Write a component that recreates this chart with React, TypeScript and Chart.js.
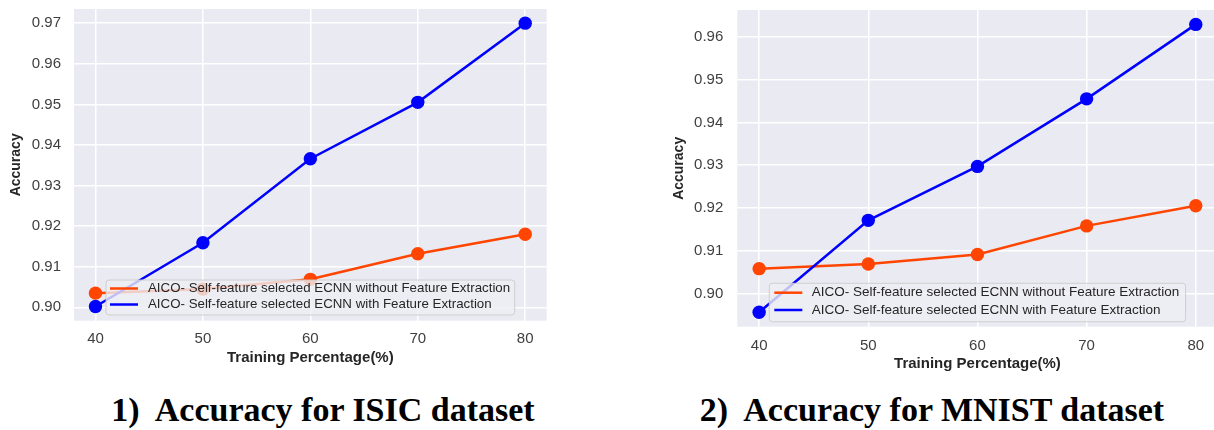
import React, { useEffect, useRef } from "react";
import { Chart, registerables } from "chart.js";

Chart.register(...registerables);

// ---------------- data ----------------
const trainingPercentage = [40, 50, 60, 70, 80];
const xTickValues = [40, 50, 60, 70, 80];

const isicWithoutFE = [0.9035, 0.9045, 0.9069, 0.9132, 0.918];
const isicWithFE = [0.9002, 0.9159, 0.9366, 0.9505, 0.97];

const mnistWithoutFE = [0.9058, 0.9069, 0.9091, 0.9158, 0.9205];
const mnistWithFE = [0.8956, 0.9171, 0.9297, 0.9455, 0.9629];

const isicYTicks = [0.9, 0.91, 0.92, 0.93, 0.94, 0.95, 0.96, 0.97];
const mnistYTicks = [0.9, 0.91, 0.92, 0.93, 0.94, 0.95, 0.96];

const seriesLabels = [
  "AICO- Self-feature selected ECNN without Feature Extraction",
  "AICO- Self-feature selected ECNN with Feature Extraction",
];
const xAxisTitle = "Training Percentage(%)";
const yAxisTitle = "Accuracy";
const captions = ["1)  Accuracy for ISIC dataset", "2)  Accuracy for MNIST dataset"];

// ---------------- styling ----------------
const RED = "#ff4500";
const BLUE = "#0000ff";
const PLOT_BG = "#eaeaf2";
const TEXT = "#262626";
const TICK_TEXT = "#3f3f3f";
const SANS = "'Liberation Sans', Arial, sans-serif";

type Layout = {
  width: number;
  height: number;
  yAxisWidth: number;
  xAxisHeight: number;
  padTop: number;
  padRight: number;
  yTitlePad: number;
  xTitlePad: number;
  yTickPad: number;
  xTickPad: number;
  legend: {
    inset: number;
    bottom: number;
    height: number;
    rows: number[];
    sampleStart: number;
    sampleEnd: number;
    textX: number;
    fontSize: number;
  };
};

const paddedRange = (vals: number[]) => {
  const mn = Math.min(...vals);
  const mx = Math.max(...vals);
  const m = (mx - mn) * 0.05;
  return [mn - m, mx + m];
};

const backgroundPlugin = {
  id: "plotBackground",
  beforeDraw(chart: any) {
    const { ctx, chartArea: a } = chart;
    ctx.save();
    ctx.fillStyle = PLOT_BG;
    ctx.fillRect(a.left, a.top, a.right - a.left, a.bottom - a.top);
    ctx.restore();
  },
};

const makeLegendPlugin = (L: Layout) => ({
  id: "insideLegend",
  afterDatasetsDraw(chart: any) {
    const { ctx, chartArea: a } = chart;
    const lg = L.legend;
    const left = a.left + lg.inset;
    const right = a.right - lg.inset;
    const bottom = a.bottom - lg.bottom;
    const top = bottom - lg.height;
    ctx.save();
    ctx.beginPath();
    const r = 3;
    ctx.moveTo(left + r, top);
    ctx.lineTo(right - r, top);
    ctx.quadraticCurveTo(right, top, right, top + r);
    ctx.lineTo(right, bottom - r);
    ctx.quadraticCurveTo(right, bottom, right - r, bottom);
    ctx.lineTo(left + r, bottom);
    ctx.quadraticCurveTo(left, bottom, left, bottom - r);
    ctx.lineTo(left, top + r);
    ctx.quadraticCurveTo(left, top, left + r, top);
    ctx.closePath();
    ctx.fillStyle = "rgba(238,238,244,0.8)";
    ctx.fill();
    ctx.strokeStyle = "rgba(204,204,204,0.9)";
    ctx.lineWidth = 1;
    ctx.stroke();
    chart.data.datasets.forEach((ds: any, i: number) => {
      const y = top + lg.rows[i];
      ctx.strokeStyle = ds.borderColor;
      ctx.lineWidth = 2.5;
      ctx.beginPath();
      ctx.moveTo(left + lg.sampleStart, y);
      ctx.lineTo(left + lg.sampleEnd, y);
      ctx.stroke();
      ctx.fillStyle = TEXT;
      ctx.font = `${lg.fontSize}px ${SANS}`;
      ctx.textBaseline = "middle";
      ctx.textAlign = "left";
      ctx.fillText(ds.label, left + lg.textX, y);
    });
    ctx.restore();
  },
});

const makeConfig = (without: number[], withFE: number[], yTicks: number[], L: Layout): any => {
  const [yMin, yMax] = paddedRange([...without, ...withFE]);
  const [xMin, xMax] = paddedRange(trainingPercentage);
  const toPts = (arr: number[]) => trainingPercentage.map((x, i) => ({ x, y: arr[i] }));
  return {
    type: "line",
    data: {
      datasets: [
        {
          label: seriesLabels[0],
          data: toPts(without),
          borderColor: RED,
          backgroundColor: RED,
          pointBackgroundColor: RED,
          borderWidth: 2.5,
          pointRadius: 6.7,
          pointBorderWidth: 0,
          order: 1,
        },
        {
          label: seriesLabels[1],
          data: toPts(withFE),
          borderColor: BLUE,
          backgroundColor: BLUE,
          pointBackgroundColor: BLUE,
          borderWidth: 2.5,
          pointRadius: 6.7,
          pointBorderWidth: 0,
          order: 0,
        },
      ],
    },
    options: {
      responsive: false,
      animation: false,
      devicePixelRatio: 1,
      layout: { padding: { top: L.padTop, right: L.padRight, left: 0, bottom: 0 } },
      plugins: { legend: { display: false }, tooltip: { enabled: false } },
      scales: {
        x: {
          type: "linear",
          min: xMin,
          max: xMax,
          afterBuildTicks: (s: any) => {
            s.ticks = xTickValues.map((v) => ({ value: v }));
          },
          afterFit: (s: any) => {
            s.height = L.xAxisHeight;
            s.paddingLeft = 0;
            s.paddingRight = 0;
            s.paddingTop = 0;
            s.paddingBottom = 0;
          },
          grid: { color: "#ffffff", lineWidth: 1.5, drawTicks: false },
          border: { display: false },
          ticks: {
            padding: L.xTickPad,
            color: TICK_TEXT,
            font: { family: SANS, size: 15 },
            callback: (v: any) => String(v),
            maxRotation: 0,
          },
          title: {
            display: true,
            text: xAxisTitle,
            color: TEXT,
            font: { family: SANS, size: 15, weight: "bold" },
            padding: { top: 0, bottom: L.xTitlePad },
          },
        },
        y: {
          type: "linear",
          min: yMin,
          max: yMax,
          afterBuildTicks: (s: any) => {
            s.ticks = yTicks.map((v) => ({ value: v }));
          },
          afterFit: (s: any) => {
            s.width = L.yAxisWidth;
            s.paddingLeft = 0;
            s.paddingRight = 0;
            s.paddingTop = 0;
            s.paddingBottom = 0;
          },
          grid: { color: "#ffffff", lineWidth: 1.5, drawTicks: false },
          border: { display: false },
          ticks: {
            padding: L.yTickPad,
            color: TICK_TEXT,
            font: { family: SANS, size: 15 },
            callback: (v: any) => Number(v).toFixed(2),
          },
          title: {
            display: true,
            text: yAxisTitle,
            color: TEXT,
            font: { family: SANS, size: 14, weight: "bold" },
            padding: { top: L.yTitlePad, bottom: 0 },
          },
        },
      },
    },
    plugins: [backgroundPlugin, makeLegendPlugin(L)],
  };
};

const leftLayout: Layout = {
  width: 560,
  height: 380,
  yAxisWidth: 74,
  xAxisHeight: 59.3,
  padTop: 9,
  padRight: 13.3,
  yTitlePad: 7.6,
  xTitlePad: 13,
  yTickPad: 13,
  xTickPad: 9,
  legend: { inset: 32, bottom: 5.7, height: 35, rows: [8.5, 24.5], sampleStart: 4, sampleEnd: 32, textX: 42, fontSize: 13.3 },
};

const rightLayout: Layout = {
  width: 600,
  height: 380,
  yAxisWidth: 97.3,
  xAxisHeight: 53.3,
  padTop: 10,
  padRight: 22.4,
  yTitlePad: 30.6,
  xTitlePad: 7,
  yTickPad: 14,
  xTickPad: 10,
  legend: { inset: 32, bottom: 5, height: 38.4, rows: [9.4, 26.7], sampleStart: 5, sampleEnd: 33, textX: 42.4, fontSize: 13.5 },
};

export default function App() {
  const leftRef = useRef<HTMLCanvasElement>(null);
  const rightRef = useRef<HTMLCanvasElement>(null);

  useEffect(() => {
    const c1 = new Chart(leftRef.current as HTMLCanvasElement, makeConfig(isicWithoutFE, isicWithFE, isicYTicks, leftLayout));
    const c2 = new Chart(rightRef.current as HTMLCanvasElement, makeConfig(mnistWithoutFE, mnistWithFE, mnistYTicks, rightLayout));
    return () => {
      c1.destroy();
      c2.destroy();
    };
  }, []);

  const captionStyle = (cx: number): React.CSSProperties => ({
    position: "absolute",
    left: cx,
    top: 393,
    transform: "translateX(-50%)",
    whiteSpace: "pre",
    fontFamily: "'Liberation Serif', 'Times New Roman', serif",
    fontWeight: "bold",
    fontSize: 34,
    lineHeight: "34px",
    color: "#000",
  });

  return (
    <div
      style={{
        position: "fixed",
        left: 0,
        top: 0,
        width: 1214,
        height: 430,
        overflow: "hidden",
        background: "#ffffff",
      }}
    >
      <canvas
        ref={leftRef}
        width={leftLayout.width}
        height={leftLayout.height}
        style={{ position: "absolute", left: 0, top: 0, width: leftLayout.width, height: leftLayout.height }}
      />
      <canvas
        ref={rightRef}
        width={rightLayout.width}
        height={rightLayout.height}
        style={{ position: "absolute", left: 640, top: 0, width: rightLayout.width, height: rightLayout.height }}
      />
      <div style={captionStyle(323)}>{captions[0]}</div>
      <div style={captionStyle(932)}>{captions[1]}</div>
    </div>
  );
}
